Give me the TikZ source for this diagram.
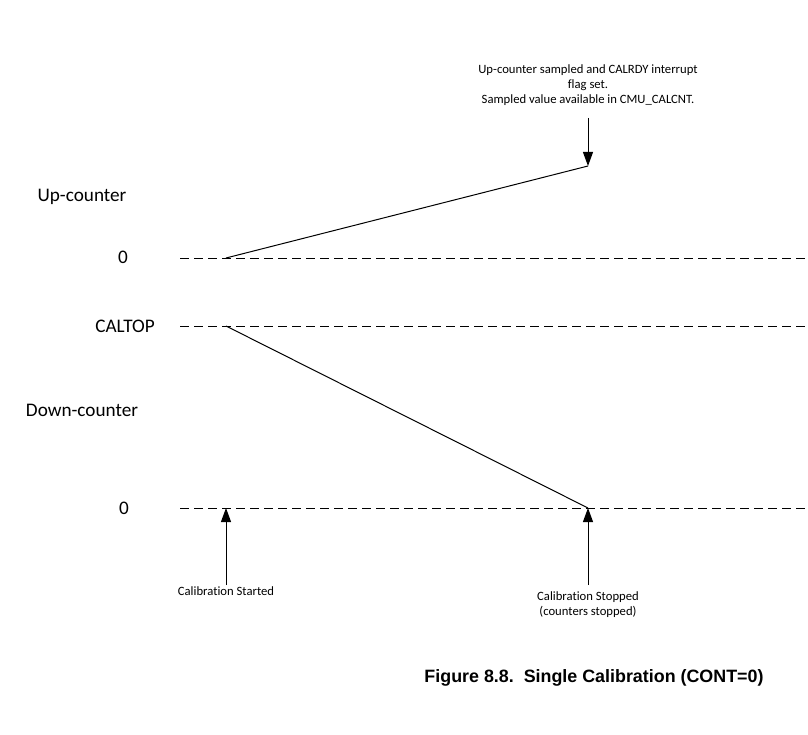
\documentclass[tikz,border=0pt]{standalone}
\usepackage{fontspec}
\setmainfont{Carlito}[Ligatures=NoCommon]
\newfontfamily\captionfont{Liberation Sans}
\usetikzlibrary{arrows.meta}
\begin{document}
\begin{tikzpicture}[x=0.75pt, y=-0.75pt, line width=0.75pt]

\tikzset{levelline/.style={dashed, dash pattern=on 6.75pt off 3.75pt}}
\tikzset{bigtext/.style={font=\fontsize{14.4}{17}\selectfont}}
\tikzset{smalltext/.style={font=\fontsize{9.5}{11.25}\selectfont, align=center}}
\tikzset{eventarrow/.style={-{Triangle[length=10.5pt, width=7.5pt]}}}

\useasboundingbox (0,0) rectangle (808,735);

% axis labels
\node[bigtext] at ( 82, 197) (up)     {Up-counter};
\node[bigtext] at (123, 257) (upzero) {0};
\node[bigtext] at (125, 326) (caltop) {CALTOP};
\node[bigtext] at ( 82, 410) (down)   {Down-counter};
\node[bigtext] at (124, 508) (dnzero) {0};

% levels
\coordinate (upl)  at (180, 258); \coordinate (upr)  at (808, 258);
\coordinate (topl) at (180, 326); \coordinate (topr) at (808, 326);
\coordinate (dnl)  at (180, 508); \coordinate (dnr)  at (808, 508);
\draw[levelline] (upl) -- (upr);
\draw[levelline] (topl) -- (topr);
\draw[levelline] (dnl) -- (dnr);

% counters
\coordinate (start0)  at (226, 258);
\coordinate (sample)  at (588, 166);
\coordinate (start1)  at (226, 326);
\coordinate (stop)    at (588, 508);
\coordinate (startdn) at (226, 508);
\draw (start0) -- (sample);
\draw (start1) -- (stop);

% events
\node[smalltext] at (588, 85) (flag) {Up-counter sampled and CALRDY interrupt\\flag set.\\Sampled value available in CMU\_CALCNT.};
\node[smalltext] at (226, 591) (started) {Calibration Started};
\node[smalltext] at (588, 604.5) (stopped) {Calibration Stopped\\(counters stopped)};
\coordinate (flagtail)    at (588, 118);
\coordinate (startedtail) at (226, 585);
\coordinate (stoppedtail) at (588, 585);
\draw[eventarrow] (flagtail) -- (sample);
\draw[eventarrow] (startedtail) -- (startdn);
\draw[eventarrow] (stoppedtail) -- (stop);

% figure title
\node[font=\captionfont\bfseries\fontsize{13.4}{16}\selectfont, anchor=east, inner sep=0pt] at (764, 678) (title) {Figure 8.8.\ \ Single Calibration (CONT=0)};

\end{tikzpicture}
\end{document}
